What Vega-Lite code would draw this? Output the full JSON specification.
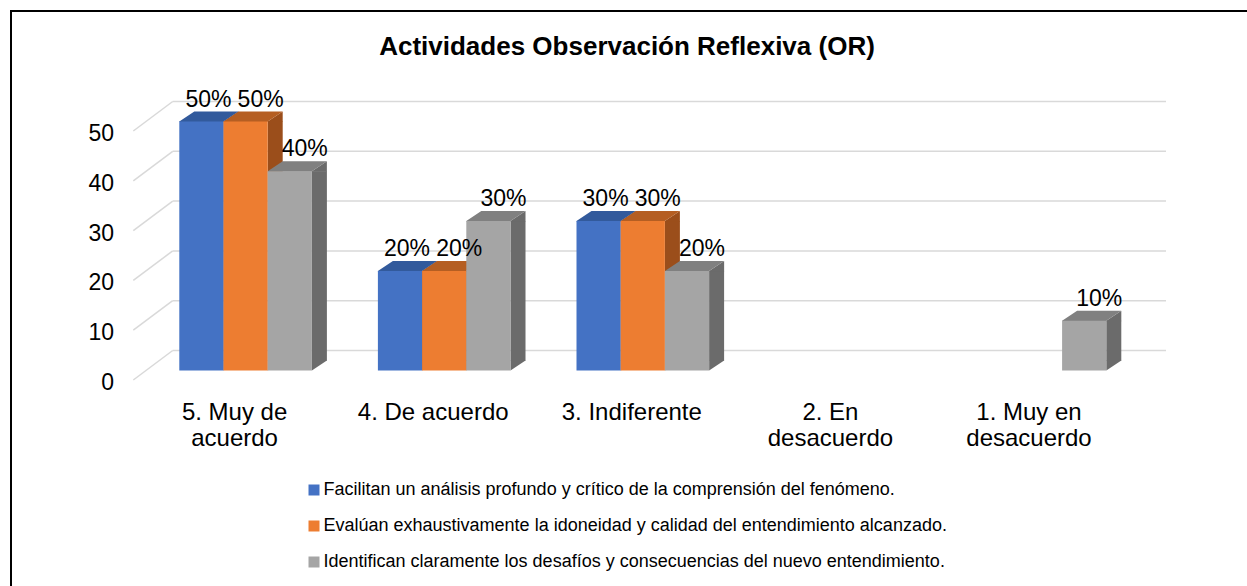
{
  "$schema": "https://vega.github.io/schema/vega-lite/v6.json",
  "width": 1240,
  "height": 600,
  "autosize": {"type": "none"},
  "padding": {"left": 11, "top": 11, "right": -4, "bottom": -25},
  "background": "white",
  "config": {
    "view": {"stroke": "#000000", "strokeWidth": 2},
    "font": "Liberation Sans",
    "axis": {"domain": false, "ticks": false, "grid": false, "labelColor": "#000000", "labelFont": "Liberation Sans", "tickSize": 0}
  },
  "title": {
    "text": "Actividades Observación Reflexiva (OR)",
    "font": "Liberation Sans",
    "fontSize": 26,
    "fontWeight": "bold",
    "color": "#000000",
    "anchor": "middle",
    "frame": "group",
    "baseline": "alphabetic",
    "offset": -70,
    "dx": -4
  },
  "datasets": {
    "main": [
      {"cat": "5. Muy de acuerdo", "serie": "Facilitan un análisis profundo y crítico de la comprensión del fenómeno.", "v": 50},
      {"cat": "5. Muy de acuerdo", "serie": "Evalúan exhaustivamente la idoneidad y calidad del entendimiento alcanzado.", "v": 50},
      {"cat": "5. Muy de acuerdo", "serie": "Identifican claramente los desafíos y consecuencias del nuevo entendimiento.", "v": 40},
      {"cat": "4. De acuerdo", "serie": "Facilitan un análisis profundo y crítico de la comprensión del fenómeno.", "v": 20},
      {"cat": "4. De acuerdo", "serie": "Evalúan exhaustivamente la idoneidad y calidad del entendimiento alcanzado.", "v": 20},
      {"cat": "4. De acuerdo", "serie": "Identifican claramente los desafíos y consecuencias del nuevo entendimiento.", "v": 30},
      {"cat": "3. Indiferente", "serie": "Facilitan un análisis profundo y crítico de la comprensión del fenómeno.", "v": 30},
      {"cat": "3. Indiferente", "serie": "Evalúan exhaustivamente la idoneidad y calidad del entendimiento alcanzado.", "v": 30},
      {"cat": "3. Indiferente", "serie": "Identifican claramente los desafíos y consecuencias del nuevo entendimiento.", "v": 20},
      {"cat": "2. En desacuerdo", "serie": "Facilitan un análisis profundo y crítico de la comprensión del fenómeno.", "v": 0},
      {"cat": "2. En desacuerdo", "serie": "Evalúan exhaustivamente la idoneidad y calidad del entendimiento alcanzado.", "v": 0},
      {"cat": "2. En desacuerdo", "serie": "Identifican claramente los desafíos y consecuencias del nuevo entendimiento.", "v": 0},
      {"cat": "1. Muy en desacuerdo", "serie": "Facilitan un análisis profundo y crítico de la comprensión del fenómeno.", "v": 0},
      {"cat": "1. Muy en desacuerdo", "serie": "Evalúan exhaustivamente la idoneidad y calidad del entendimiento alcanzado.", "v": 0},
      {"cat": "1. Muy en desacuerdo", "serie": "Identifican claramente los desafíos y consecuencias del nuevo entendimiento.", "v": 10}
    ],
    "grid": [{"g": 0}, {"g": 10}, {"g": 20}, {"g": 30}, {"g": 40}, {"g": 50}]
  },
  "resolve": {"scale": {"color": "independent"}},
  "layer": [
    {
      "data": {"name": "grid"},
      "mark": {"type": "rule", "color": "#d9d9d9", "strokeWidth": 1.5, "xOffset": -46, "x2Offset": -6.6, "yOffset": 9.5, "y2Offset": -20},
      "encoding": {
        "x": {"datum": "5. Muy de acuerdo", "type": "nominal", "bandPosition": 0},
        "x2": {"datum": "5. Muy de acuerdo", "bandPosition": 0},
        "y": {"field": "g", "type": "quantitative"},
        "y2": {"field": "g"}
      }
    },
    {
      "data": {"name": "grid"},
      "mark": {"type": "rule", "color": "#d9d9d9", "strokeWidth": 1.5, "xOffset": -6.6, "x2Offset": 59.7, "yOffset": -20},
      "encoding": {
        "x": {"datum": "5. Muy de acuerdo", "type": "nominal", "bandPosition": 0},
        "x2": {"datum": "1. Muy en desacuerdo", "bandPosition": 1},
        "y": {"field": "g", "type": "quantitative"}
      }
    },
    {
      "data": {"name": "main"},
      "transform": [{"filter": "datum.v > 0 && datum.serie == 'Facilitan un análisis profundo y crítico de la comprensión del fenómeno.'"}],
      "mark": {"type": "bar", "width": 15, "xOffset": -14.6, "y2Offset": -10, "color": "#294A86"},
      "encoding": {
        "x": {"field": "cat", "type": "nominal"},
        "y": {"field": "v", "type": "quantitative"},
        "y2": {"datum": 0}
      }
    },
    {
      "data": {"name": "main"},
      "transform": [{"filter": "datum.v > 0 && datum.serie == 'Evalúan exhaustivamente la idoneidad y calidad del entendimiento alcanzado.'"}],
      "mark": {"type": "bar", "width": 15, "xOffset": 29.6, "y2Offset": -10, "color": "#9B4E1B"},
      "encoding": {
        "x": {"field": "cat", "type": "nominal"},
        "y": {"field": "v", "type": "quantitative"},
        "y2": {"datum": 0}
      }
    },
    {
      "data": {"name": "main"},
      "transform": [{"filter": "datum.v > 0 && datum.serie == 'Identifican claramente los desafíos y consecuencias del nuevo entendimiento.'"}],
      "mark": {"type": "bar", "width": 15, "xOffset": 73.8, "y2Offset": -10, "color": "#6B6B6B"},
      "encoding": {
        "x": {"field": "cat", "type": "nominal"},
        "y": {"field": "v", "type": "quantitative"},
        "y2": {"datum": 0}
      }
    },
    {
      "data": {"name": "main"},
      "transform": [{"filter": "datum.v > 0"}],
      "mark": {"type": "point", "shape": "M 22.1 0 L 37.1 -10 L 37.1 0.5 L 22.1 0.5 Z", "size": 4, "filled": true, "opacity": 1, "strokeWidth": 0},
      "encoding": {
        "x": {"field": "cat", "type": "nominal"},
        "xOffset": {"field": "serie", "type": "nominal"},
        "y": {"field": "v", "type": "quantitative"},
        "color": {"field": "serie", "type": "nominal", "legend": null,
          "scale": {"domain": ["Facilitan un análisis profundo y crítico de la comprensión del fenómeno.", "Evalúan exhaustivamente la idoneidad y calidad del entendimiento alcanzado.", "Identifican claramente los desafíos y consecuencias del nuevo entendimiento."], "range": ["#294A86", "#9B4E1B", "#6B6B6B"]}}
      }
    },
    {
      "data": {"name": "main"},
      "transform": [{"filter": "datum.v > 0"}],
      "mark": {"type": "point", "shape": "M 22.1 -10.5 L 37.1 -10.5 L 37.1 -10 L 22.1 0 Z", "size": 4, "filled": true, "opacity": 1, "strokeWidth": 0},
      "encoding": {
        "x": {"field": "cat", "type": "nominal"},
        "xOffset": {"field": "serie", "type": "nominal"},
        "y": {"datum": 0},
        "color": {"field": "serie", "type": "nominal", "legend": null,
          "scale": {"domain": ["Facilitan un análisis profundo y crítico de la comprensión del fenómeno.", "Evalúan exhaustivamente la idoneidad y calidad del entendimiento alcanzado.", "Identifican claramente los desafíos y consecuencias del nuevo entendimiento."], "range": ["#294A86", "#9B4E1B", "#6B6B6B"]}}
      }
    },
    {
      "data": {"name": "main"},
      "transform": [{"filter": "datum.v > 0"}],
      "mark": {"type": "point", "shape": "M -22.1 0.5 L -22.1 0 L -7.1 -10 L 37.1 -10 L 22.1 0 L 22.1 0.5 Z", "size": 4, "filled": true, "opacity": 1, "strokeWidth": 0},
      "encoding": {
        "x": {"field": "cat", "type": "nominal"},
        "xOffset": {"field": "serie", "type": "nominal"},
        "y": {"field": "v", "type": "quantitative"},
        "color": {"field": "serie", "type": "nominal", "legend": null,
          "scale": {"domain": ["Facilitan un análisis profundo y crítico de la comprensión del fenómeno.", "Evalúan exhaustivamente la idoneidad y calidad del entendimiento alcanzado.", "Identifican claramente los desafíos y consecuencias del nuevo entendimiento."], "range": ["#325A9C", "#B55E22", "#808080"]}}
      }
    },
    {
      "data": {"name": "main"},
      "mark": {"type": "bar"},
      "encoding": {
        "x": {
          "field": "cat", "type": "nominal", "sort": null,
          "scale": {"type": "band", "domain": ["5. Muy de acuerdo", "4. De acuerdo", "3. Indiferente", "2. En desacuerdo", "1. Muy en desacuerdo"], "range": [135.3, 1128.3], "paddingInner": 0.3323, "paddingOuter": 0.16615},
          "axis": {
            "title": null, "labelFontSize": 24, "labelAngle": 0, "labelAlign": "center", "labelPadding": 0, "offset": -192, "labelOffset": -11,
            "labelBaseline": "alphabetic", "labelLineHeight": 26, "labelLimit": 400, "labelOverlap": false, "labelFlush": false,
            "labelExpr": "datum.label == '5. Muy de acuerdo' ? ['5. Muy de', 'acuerdo'] : datum.label == '2. En desacuerdo' ? ['2. En', 'desacuerdo'] : datum.label == '1. Muy en desacuerdo' ? ['1. Muy en', 'desacuerdo'] : datum.label"
          }
        },
        "xOffset": {
          "field": "serie", "type": "nominal",
          "scale": {"domain": ["Facilitan un análisis profundo y crítico de la comprensión del fenómeno.", "Evalúan exhaustivamente la idoneidad y calidad del entendimiento alcanzado.", "Identifican claramente los desafíos y consecuencias del nuevo entendimiento."], "paddingInner": 0, "paddingOuter": 0}
        },
        "y": {
          "field": "v", "type": "quantitative",
          "scale": {"domain": [0, 50], "range": [359.5, 110.5], "nice": false, "zero": true},
          "axis": {"title": null, "values": [0, 10, 20, 30, 40, 50], "labelFontSize": 23, "offset": -102.5, "labelPadding": 0, "labelOffset": 12, "labelOverlap": false, "labelFlush": false}
        },
        "y2": {"datum": 0},
        "color": {
          "field": "serie", "type": "nominal",
          "scale": {"domain": ["Facilitan un análisis profundo y crítico de la comprensión del fenómeno.", "Evalúan exhaustivamente la idoneidad y calidad del entendimiento alcanzado.", "Identifican claramente los desafíos y consecuencias del nuevo entendimiento."], "range": ["#4472C4", "#ED7D31", "#A5A5A5"]},
          "legend": {
            "title": null, "orient": "none", "legendX": 294, "legendY": 470, "direction": "vertical",
            "symbolType": "square", "symbolSize": 121, "symbolStrokeWidth": 0, "symbolOpacity": 1,
            "labelFontSize": 18, "labelFont": "Liberation Sans", "labelColor": "#000000", "labelLimit": 1000,
            "labelOffset": 0.5, "rowPadding": 18, "padding": 0
          }
        }
      }
    },
    {
      "data": {"name": "main"},
      "transform": [{"filter": "datum.v > 0"}],
      "mark": {"type": "text", "text": {"expr": "datum.v + '%'"}, "fontSize": 23, "font": "Liberation Sans", "color": "#000000", "align": "center", "baseline": "alphabetic",
        "dx": {"expr": "datum.serie == 'Facilitan un análisis profundo y crítico de la comprensión del fenómeno.' ? 7 : 15"}, "dy": -15},
      "encoding": {
        "x": {"field": "cat", "type": "nominal"},
        "xOffset": {"field": "serie", "type": "nominal"},
        "y": {"field": "v", "type": "quantitative"}
      }
    }
  ]
}
